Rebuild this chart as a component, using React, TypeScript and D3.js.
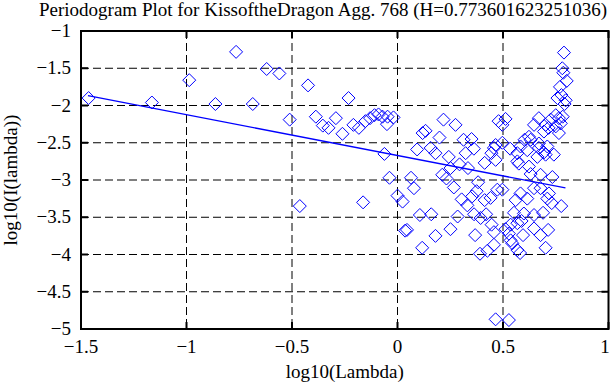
import { useRef, useEffect } from 'react';
import * as d3 from 'd3';

// periodogram points, log10(lambda) vs log10(I(lambda))
const ptsX = [
  -1.464, -1.164, -0.987, -0.863, -0.765, -0.686, -0.62, -0.56, -0.511, -0.463,
  -0.424, -0.387, -0.354, -0.327, -0.292, -0.261, -0.232, -0.209, -0.183, -0.163,
  -0.152, -0.13, -0.109, -0.09, -0.071, -0.05, -0.047, -0.019, -0.062, -0.038,
  0.0, 0.024, 0.064, 0.078, 0.106, 0.16, 0.045, 0.036, 0.117, 0.18,
  0.251, 0.285, 0.133, 0.119, 0.093, 0.157, 0.18, 0.199, 0.218, 0.275,
  0.243, 0.212, 0.232, 0.267, 0.251, 0.294, 0.313, 0.351, 0.362, 0.323,
  0.334, 0.382, 0.375, 0.304, 0.354, 0.413, 0.331, 0.413, 0.445, 0.479,
  0.512, 0.497, 0.473, 0.497, 0.465, 0.497, 0.534, 0.457, 0.363, 0.42,
  0.394, 0.368, 0.391, 0.426, 0.457, 0.446, 0.457, 0.465, 0.528, 0.544,
  0.581, 0.568, 0.595, 0.702, 0.678, 0.714, 0.552, 0.588, 0.647, 0.69,
  0.599, 0.776, 0.731, 0.512, 0.528, 0.536, 0.568, 0.647, 0.536, 0.465,
  0.441, 0.583, 0.615, 0.56, 0.718, 0.734, 0.647, 0.678, 0.623, 0.631,
  0.568, 0.663, 0.741, 0.694, 0.678, 0.71, 0.67, 0.602, 0.623, 0.71,
  0.575, 0.615, 0.67, 0.702, 0.583, 0.568, 0.789, 0.781, 0.786, 0.802,
  0.77, 0.777, 0.758, 0.797, 0.792, 0.75, 0.765, 0.726, 0.774, 0.75,
  0.765, 0.702, 0.67, 0.647, 0.694, 0.631, 0.783, 0.716,
];
const ptsY = [
  -1.9, -1.96, -1.66, -1.98, -1.28, -1.98, -1.51, -1.57, -2.19, -3.35,
  -1.73, -2.15, -2.27, -2.3, -2.17, -2.38, -1.9, -2.26, -2.3, -3.3,
  -2.21, -2.17, -2.13, -2.12, -2.15, -2.25, -2.15, -2.16, -2.65, -2.97,
  -3.21, -3.29, -2.97, -3.11, -3.47, -3.46, -3.67, -3.68, -3.91, -3.75,
  -3.66, -3.49, -2.34, -2.37, -2.59, -2.57, -2.64, -2.43, -2.19, -2.26,
  -2.69, -2.93, -2.98, -3.1, -2.84, -2.79, -2.46, -2.45, -2.58, -2.64,
  -2.84, -3.03, -3.15, -3.26, -3.22, -3.27, -3.34, -2.77, -2.64, -2.21,
  -2.18, -2.26, -3.13, -3.13, -2.53, -2.5, -2.58, -2.57, -3.46, -3.46,
  -3.51, -3.74, -3.99, -3.95, -3.87, -3.6, -3.7, -4.87, -4.88, -3.85,
  -3.98, -3.94, -3.74, -3.91, -3.74, -3.67, -3.44, -3.55, -3.47, -3.44,
  -3.45, -3.35, -3.31, -3.66, -3.72, -3.6, -3.58, -3.65, -3.81, -2.73,
  -3.24, -3.18, -3.25, -3.27, -3.18, -2.96, -3.11, -3.11, -2.82, -2.92,
  -2.75, -2.69, -2.66, -2.63, -2.93, -2.55, -2.51, -2.46, -2.42, -3.25,
  -2.78, -2.6, -2.57, -2.66, -2.55, -2.64, -1.29, -1.5, -1.56, -1.67,
  -1.75, -1.86, -1.9, -1.93, -1.98, -2.13, -2.17, -2.19, -2.24, -2.28,
  -2.37, -2.26, -2.17, -2.26, -2.35, -2.46, -2.15, -2.3,
];

// least squares fit line end points
const fitX = [-1.467, 0.796];
const fitY = [-1.868, -3.107];

const xTicks = [-1.5, -1, -0.5, 0, 0.5, 1];
const xTickLabels = ['\u22121.5', '\u22121', '\u22120.5', '0', '0.5', '1'];
const yTicks = [-1, -1.5, -2, -2.5, -3, -3.5, -4, -4.5, -5];
const yTickLabels = ['\u22121', '\u22121.5', '\u22122', '\u22122.5', '\u22123', '\u22123.5', '\u22124', '\u22124.5', '\u22125'];

const title = 'Periodogram Plot for KissoftheDragon Agg. 768 (H=0.773601623251036)';

export default function App() {
  const svgRef = useRef<SVGSVGElement>(null);
  const width = 611;
  const height = 385;
  const margin = { top: 31, right: 2.5, bottom: 56, left: 81 };

  useEffect(() => {
    if (!svgRef.current) return;
    const svg = d3.select(svgRef.current);
    svg.selectAll('*').remove();
    const font = '"Liberation Serif", "Times New Roman", serif';
    const fs = 19;

    const x = d3.scaleLinear().domain([-1.5, 1]).range([margin.left, width - margin.right]);
    const y = d3.scaleLinear().domain([-5, -1]).range([height - margin.bottom, margin.top]);
    const [x0, x1] = x.range();
    const [y0, y1] = y.range();

    svg.append('rect').attr('width', width).attr('height', height).attr('fill', '#fff');

    // dashed grid
    const grid = svg.append('g').attr('stroke', '#000').attr('stroke-width', 1).attr('stroke-dasharray', '8,4');
    xTicks.slice(1, -1).forEach((t) => {
      grid.append('line').attr('x1', x(t)).attr('x2', x(t)).attr('y1', y1).attr('y2', y0);
    });
    yTicks.slice(1, -1).forEach((t) => {
      grid.append('line').attr('x1', x0).attr('x2', x1).attr('y1', y(t)).attr('y2', y(t));
    });

    // tick marks on all four sides
    const ticks = svg.append('g').attr('stroke', '#000').attr('stroke-width', 2);
    xTicks.forEach((t) => {
      ticks.append('line').attr('x1', x(t)).attr('x2', x(t)).attr('y1', y0).attr('y2', y0 - 7);
      ticks.append('line').attr('x1', x(t)).attr('x2', x(t)).attr('y1', y1).attr('y2', y1 + 7);
    });
    yTicks.forEach((t) => {
      ticks.append('line').attr('x1', x0).attr('x2', x0 + 7).attr('y1', y(t)).attr('y2', y(t));
      ticks.append('line').attr('x1', x1).attr('x2', x1 - 7).attr('y1', y(t)).attr('y2', y(t));
    });

    // tick labels (last one kept inside the page edge)
    svg.append('g')
      .selectAll('text')
      .data(xTicks)
      .join('text')
      .attr('x', (d) => Math.min(x(d), width - 6))
      .attr('y', y0 + 24)
      .attr('text-anchor', 'middle')
      .attr('font-family', font)
      .attr('font-size', fs)
      .text((d, i) => xTickLabels[i]);

    svg.append('g')
      .selectAll('text')
      .data(yTicks)
      .join('text')
      .attr('x', x0 - 10)
      .attr('y', (d) => y(d) + 6)
      .attr('text-anchor', 'end')
      .attr('font-family', font)
      .attr('font-size', fs)
      .text((d, i) => yTickLabels[i]);

    // points
    const r = 6.5;
    svg.append('g')
      .selectAll('path')
      .data(ptsX.map((v, i) => [v, ptsY[i]]))
      .join('path')
      .attr('d', (d) => {
        const cx = x(d[0]);
        const cy = y(d[1]);
        return `M${cx},${cy - r}L${cx + r},${cy}L${cx},${cy + r}L${cx - r},${cy}Z`;
      })
      .attr('fill', 'none')
      .attr('stroke', '#0000ff')
      .attr('stroke-width', 1);

    // fit line
    const line = d3.line<number>().x((d) => x(d)).y((d, i) => y(fitY[i]));
    svg.append('path')
      .datum(fitX)
      .attr('fill', 'none')
      .attr('stroke', '#0000ff')
      .attr('stroke-width', 1.3)
      .attr('d', line);

    // frame
    svg.append('rect')
      .attr('x', x0)
      .attr('y', y1)
      .attr('width', x1 - x0)
      .attr('height', y0 - y1)
      .attr('fill', 'none')
      .attr('stroke', '#000')
      .attr('stroke-width', 2);

    svg.append('text')
      .attr('x', 39)
      .attr('y', 16)
      .attr('font-family', font)
      .attr('font-size', fs)
      .text(title);

    svg.append('text')
      .attr('x', (x0 + x1) / 2)
      .attr('y', 378)
      .attr('text-anchor', 'middle')
      .attr('font-family', font)
      .attr('font-size', fs)
      .text('log10(Lambda)');

    svg.append('text')
      .attr('transform', `translate(17,${(y0 + y1) / 2}) rotate(-90)`)
      .attr('text-anchor', 'middle')
      .attr('font-family', font)
      .attr('font-size', fs)
      .text('log10(I(lambda))');
  }, []);

  return (
    <div style={{ position: 'absolute', left: 0, top: 0 }}>
      <svg ref={svgRef} width={width} height={height} style={{ display: 'block' }} />
    </div>
  );
}
